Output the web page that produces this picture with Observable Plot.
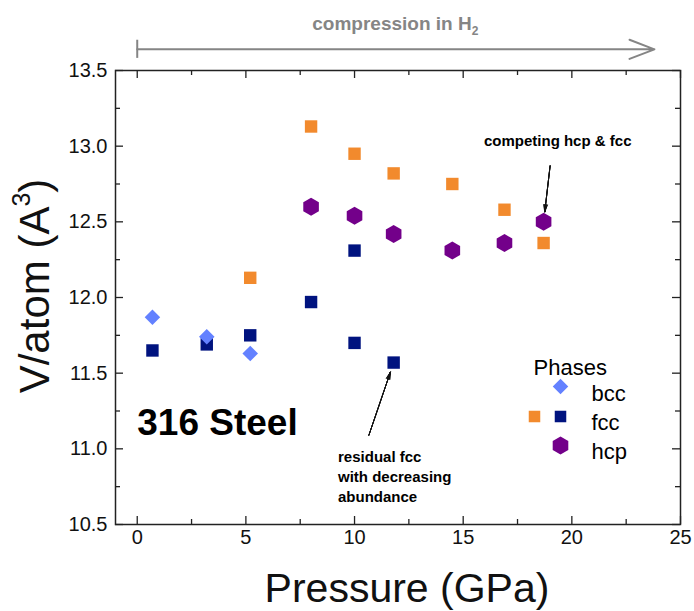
<!DOCTYPE html>
<html><head><meta charset="utf-8">
<script src="https://cdn.jsdelivr.net/npm/d3@7"></script>
<script src="https://cdn.jsdelivr.net/npm/@observablehq/plot@0.6"></script>
<style>
body{margin:0;background:#fff;}
#chart svg{font-family:"Liberation Sans",Arial,Helvetica,sans-serif;}
</style>
</head><body><div id="chart"></div>
<script>
// ---- data ----
const bccP = [0.7, 3.2, 5.2];
const bccV = [11.87, 11.74, 11.63];
const fccH2P = [5.2, 8.0, 10.0, 11.8, 14.5, 16.9, 18.7];      // orange fcc
const fccH2V = [12.13, 13.13, 12.95, 12.82, 12.75, 12.58, 12.36];
const fccP = [0.7, 3.2, 5.2, 8.0, 10.0, 10.0, 11.8];           // navy fcc
const fccV = [11.65, 11.69, 11.75, 11.97, 12.31, 11.70, 11.57];
const hcpP = [8.0, 10.0, 11.8, 14.5, 16.9, 18.7];
const hcpV = [12.60, 12.54, 12.42, 12.31, 12.36, 12.50];
const xTicks = [0, 5, 10, 15, 20, 25];
const xMinor = [2.5, 7.5, 12.5, 17.5, 22.5];
const yTicks = [10.5, 11.0, 11.5, 12.0, 12.5, 13.0, 13.5];
const yMinor = [10.75, 11.25, 11.75, 12.25, 12.75, 13.25];
const legendTitle = "Phases";
const legendLabels = ["bcc", "fcc", "hcp"];
const sampleLabel = "316 Steel";
const note1 = "competing hcp & fcc";
const note2 = "residual fcc\nwith decreasing\nabundance";
const xTitle = "Pressure (GPa)";
const yTitle = ["V/atom (A", "3", ")"];
const topTitle = ["compression in H", "2"];
const compressionEnd = 23.8;

// ---- styles ----
const C = {bcc: "#6381ff", fccH2: "#f28a2d", fcc: "#00137f", hcp: "#73008a", gray: "#858585", axis: "#222"};
const width = 694, height = 611;
const mL = 115, mR = 14, mT = 70, mB = 87;
const W = width - mL - mR, H = height - mT - mB;
const legendRowsY = [385, 414, 443];
const rSq = 7.0, rDia = 7.0, rHex = 7.8;

const pts = (P, V) => P.map((p, i) => ({p, v: V[i]}));

const plot = Plot.plot({
  width, height,
  marginLeft: mL, marginRight: mR, marginTop: mT, marginBottom: mB,
  style: {fontFamily: "Liberation Sans, Arial, Helvetica, sans-serif", background: "#fff", overflow: "visible"},
  x: {domain: [-1, 25], axis: null},
  y: {domain: [10.5, 13.5], axis: null},
  marks: [
    Plot.frame({stroke: C.axis, strokeWidth: 1.5}),
    // inward ticks on all four sides
    Plot.tickX(xTicks, {x: d => d, insetTop: H - 8, stroke: C.axis, strokeWidth: 1.3}),
    Plot.tickX(xTicks, {x: d => d, insetBottom: H - 8, stroke: C.axis, strokeWidth: 1.3}),
    Plot.tickX(xMinor, {x: d => d, insetTop: H - 5, stroke: C.axis, strokeWidth: 1.3}),
    Plot.tickX(xMinor, {x: d => d, insetBottom: H - 5, stroke: C.axis, strokeWidth: 1.3}),
    Plot.tickY(yTicks, {y: d => d, insetRight: W - 8, stroke: C.axis, strokeWidth: 1.3}),
    Plot.tickY(yTicks, {y: d => d, insetLeft: W - 8, stroke: C.axis, strokeWidth: 1.3}),
    Plot.tickY(yMinor, {y: d => d, insetRight: W - 5, stroke: C.axis, strokeWidth: 1.3}),
    Plot.tickY(yMinor, {y: d => d, insetLeft: W - 5, stroke: C.axis, strokeWidth: 1.3}),
    // tick labels
    Plot.text(yTicks, {y: d => d, text: d => d.toFixed(1), frameAnchor: "left", textAnchor: "end", dx: -8, fontSize: 20, fill: "#111"}),
    Plot.text(xTicks, {x: d => d, text: d => String(d), frameAnchor: "bottom", dy: 19, fontSize: 20, fill: "#111"}),
    // data
    Plot.dot(pts(fccH2P, fccH2V), {x: "p", y: "v", symbol: "square", r: rSq, fill: C.fccH2}),
    Plot.dot(pts(fccP, fccV), {x: "p", y: "v", symbol: "square", r: rSq, fill: C.fcc}),
    Plot.dot(pts(bccP, bccV), {x: "p", y: "v", symbol: "diamond2", r: rDia, fill: C.bcc}),
    Plot.dot(pts(hcpP, hcpV), {x: "p", y: "v", symbol: "hexagon", r: rHex, fill: C.hcp}),
    // legend
    Plot.text([legendTitle], {frameAnchor: "top-left", dx: 533 - mL, dy: 359 - mT, textAnchor: "start", fontSize: 22, text: d => d}),
    Plot.dot([legendLabels[0]], {frameAnchor: "top-left", dx: 560 - mL, dy: 386 - mT, symbol: "diamond2", r: rDia, fill: C.bcc}),
    Plot.dot([legendLabels[1]], {frameAnchor: "top-left", dx: 534 - mL, dy: 416 - mT, symbol: "square", r: 6.5, fill: C.fccH2}),
    Plot.dot([legendLabels[1]], {frameAnchor: "top-left", dx: 560 - mL, dy: 416 - mT, symbol: "square", r: 6.5, fill: C.fcc}),
    Plot.dot([legendLabels[2]], {frameAnchor: "top-left", dx: 560 - mL, dy: 445 - mT, symbol: "hexagon", r: rHex, fill: C.hcp}),
    ...legendLabels.map((lab, i) => Plot.text([lab], {frameAnchor: "top-left", dx: 591 - mL, dy: legendRowsY[i] - mT, textAnchor: "start", fontSize: 22, text: d => d})),
    // sample label
    Plot.text([sampleLabel], {x: 0, y: 11.17, text: d => d, textAnchor: "start", fontSize: 37, fontWeight: "bold"}),
    // annotations
    Plot.text([note1], {x: 19.35, y: 13.03, text: d => d, fontSize: 15, fontWeight: "bold"}),
    Plot.text([note2], {x: 9.24, y: 11.006, text: d => d, textAnchor: "start", lineAnchor: "top", lineHeight: 1.33, fontSize: 15, fontWeight: "bold"}),
    ...[30, 22, 14, 6].map(a => Plot.arrow([0], {x1: 19.0, y1: 12.87, x2: hcpP[5], y2: hcpV[5], insetEnd: 10, headLength: 11, headAngle: a, stroke: "#111", strokeWidth: 1})),
    ...[30, 22, 14, 6].map(a => Plot.arrow([0], {x1: 10.66, y1: 11.09, x2: fccP[6], y2: fccV[6], insetEnd: 10, headLength: 11, headAngle: a, stroke: "#111", strokeWidth: 1})),
    // compression arrow above the frame
    Plot.arrow([0], {x1: 0, y1: 13.64, x2: compressionEnd, y2: 13.64, headLength: 20, headAngle: 42, stroke: C.gray, strokeWidth: 2}),
    Plot.ruleX([0], {x: d => d, y1: 13.58, y2: 13.70, stroke: C.gray, strokeWidth: 2})
  ]
});

document.getElementById("chart").appendChild(plot);

// titles with super/subscripts
{
  const svg = d3.select(plot);
  const xs = plot.scale("x");
  const ff = "Liberation Sans, Arial, Helvetica, sans-serif";
  // x title
  svg.append("text")
    .attr("x", 407).attr("y", 602)
    .attr("text-anchor", "middle").attr("font-family", ff).attr("font-size", 41).attr("fill", "#111")
    .text(xTitle);
  // y title
  const yt = svg.append("text")
    .attr("transform", "translate(49,286) rotate(-90)")
    .attr("text-anchor", "middle").attr("font-family", ff).attr("font-size", 42).attr("fill", "#111");
  yt.append("tspan").text(yTitle[0]);
  yt.append("tspan").attr("font-size", 25).attr("dy", -19).text(yTitle[1]);
  yt.append("tspan").attr("font-size", 42).attr("dy", 19).text(yTitle[2]);
  // compression title
  const tt = svg.append("text")
    .attr("x", xs.apply(compressionEnd / 2)).attr("y", 30)
    .attr("text-anchor", "middle").attr("font-family", ff).attr("font-size", 19).attr("font-weight", "bold").attr("fill", C.gray);
  tt.append("tspan").text(topTitle[0]);
  tt.append("tspan").attr("font-size", 12).attr("dy", 5).text(topTitle[1]);
}
</script>
</body></html>
